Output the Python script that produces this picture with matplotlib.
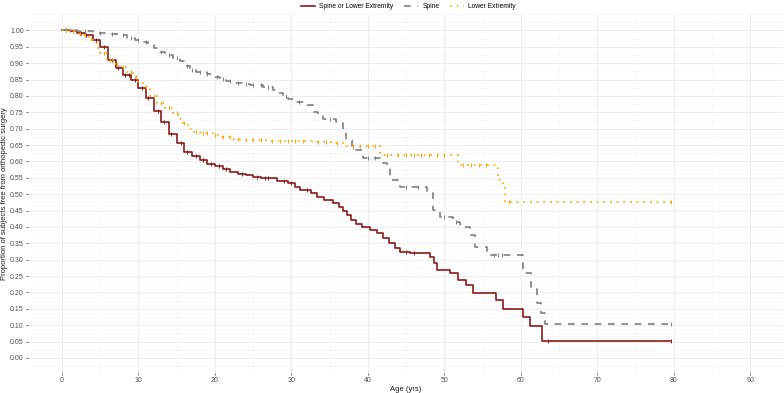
import numpy as np
from matplotlib import pyplot as plt
from matplotlib.ticker import MultipleLocator

plt.rcParams['font.family'] = ['Liberation Sans', 'DejaVu Sans']

# Kaplan-Meier step points (age in years, survival after step)
combo_t = [0, 1, 2, 3, 4, 5, 6, 7, 8, 9, 10, 11, 12, 13, 14, 15, 16, 17, 18, 19,
           20, 21, 22, 23, 24, 25, 26, 27.5, 28.1, 29.5, 30.5, 31.1, 32.5, 33.3,
           34.2, 35.4, 36.2, 36.7, 37.3, 37.8, 38.5, 39.3, 40.3, 41.2, 42, 42.8,
           43.5, 44.2, 45.5, 48.1, 48.6, 49.0, 50.7, 51.8, 52.9, 53.8, 56.8,
           57.7, 60.3, 61.2, 62.8, 79.7]
combo_s = [1.0, 0.998, 0.993, 0.985, 0.972, 0.95, 0.91, 0.885, 0.865, 0.848,
           0.825, 0.795, 0.755, 0.72, 0.685, 0.655, 0.63, 0.615, 0.603, 0.593,
           0.585, 0.578, 0.568, 0.562, 0.558, 0.552, 0.55, 0.548, 0.541, 0.535,
           0.522, 0.512, 0.505, 0.49, 0.482, 0.472, 0.462, 0.45, 0.435, 0.42,
           0.41, 0.40, 0.39, 0.38, 0.365, 0.35, 0.337, 0.322, 0.32, 0.309,
           0.29, 0.268, 0.259, 0.238, 0.223, 0.199, 0.177, 0.149, 0.126,
           0.098, 0.052, 0.052]

spine_t = [0, 2, 4, 6, 7.5, 8.5, 9.5, 10.5, 11.3, 12, 12.8, 13.5, 14.5, 15.4,
           16, 16.7, 17.5, 18.9, 20, 20.6, 21.5, 22.4, 23.5, 24.6, 26.3, 27.6,
           28.3, 28.9, 29.6, 30.2, 32, 32.8, 33.5, 34.1, 35.9, 36.7, 37.2, 37.9,
           38.5, 39.4, 42.0, 42.5, 42.9, 44.2, 47.7, 48.5, 49.4, 51.1, 52, 53.3,
           54, 55.6, 60.3, 61.4, 62.1, 62.7, 63.2, 79.7]
spine_s = [1.0, 0.997, 0.993, 0.99, 0.985, 0.978, 0.972, 0.965, 0.955, 0.945,
           0.935, 0.925, 0.915, 0.905, 0.89, 0.878, 0.872, 0.866, 0.858, 0.852,
           0.846, 0.84, 0.836, 0.832, 0.827, 0.817, 0.808, 0.80, 0.79, 0.781,
           0.771, 0.75, 0.74, 0.73, 0.72, 0.70, 0.665, 0.645, 0.634, 0.61,
           0.595, 0.583, 0.543, 0.522, 0.503, 0.451, 0.431, 0.416, 0.40, 0.375,
           0.339, 0.314, 0.259, 0.21, 0.168, 0.137, 0.105, 0.105]

lower_t = [0, 1, 2, 2.7, 3.5, 4.1, 4.6, 5, 5.9, 6.8, 7.6, 8.5, 9.3, 10, 10.6,
           11.5, 12.4, 13.5, 14.5, 15.2, 15.8, 16.5, 17.1, 18, 19.7, 20.6, 22.4,
           23.3, 26.8, 32.8, 35.4, 37.2, 41.6, 51.8, 57.0, 57.7, 57.9, 79.7]
lower_s = [1.0, 0.997, 0.99, 0.985, 0.975, 0.96, 0.945, 0.93, 0.909, 0.898,
           0.888, 0.872, 0.858, 0.843, 0.827, 0.80, 0.777, 0.762, 0.747, 0.73,
           0.716, 0.70, 0.69, 0.686, 0.68, 0.675, 0.668, 0.665, 0.663, 0.66,
           0.655, 0.646, 0.619, 0.588, 0.543, 0.522, 0.477, 0.477]

# censoring times
combo_cens = [0.5, 1.5, 2.5, 3.2, 4.5, 5.5, 6.5, 7.3, 8.2, 8.8, 9.6, 10.4, 11.2,
              12.5, 13.4, 14.3, 15.5, 16.3, 17.5, 18.5, 19.5, 20.5, 21.5, 23.5,
              25.5, 26.5, 27, 29, 30, 32, 45, 46, 63.5, 79.7]
spine_cens = [1, 3, 5, 6.5, 8, 9, 10, 11, 13, 14, 15, 16.3, 17, 18, 19, 20.3,
              21, 22, 23, 24, 25, 26, 27, 29.3, 31, 35, 38, 40, 41, 45, 46.5,
              50, 51.5, 56.5, 57, 57.5, 79.7]
lower_cens = [0.5, 1.5, 2.3, 3, 3.8, 5.5, 6.3, 7.2, 8, 9, 9.7, 11, 12, 13, 14,
              15, 16, 17.5, 18.5, 19, 20, 21, 22, 23, 24, 25, 26, 27.5, 28.5,
              29.5, 30.5, 31.5, 33.5, 34.5, 36, 38, 39, 40, 41, 42.5, 44, 45,
              46, 47, 48, 49, 50, 52.5, 53.5, 54.5, 55.5, 58.5, 79.7]

labels = ['Spine or Lower Extremity', 'Spine', 'Lower Extremity']
colors = ['#8B1A1A', '#7F7F7F', '#FFA500']
styles = ['-', (0, (4, 4)), (0, (1, 3))]


def surv_at(t, s, when):
    idx = np.searchsorted(t, when, side='right') - 1
    return np.asarray(s)[idx]


fig = plt.figure(figsize=(7.84, 3.93), dpi=100)
ax = fig.add_axes([28 / 784, 20 / 393, 755 / 784, 359 / 393])

series = [(combo_t, combo_s, combo_cens), (spine_t, spine_s, spine_cens),
          (lower_t, lower_s, lower_cens)]
for (t, s, c), lab, col, ls in zip(series, labels, colors, styles):
    ax.step(t, s, where='post', color=col, linestyle=ls, lw=1.2, label=lab)
    ax.plot(c, surv_at(t, s, c), linestyle='none', marker='|', color=col,
            markersize=3, markeredgewidth=0.7)

ax.set_xlim(-4.45, 94.3)
ax.set_ylim(-0.046, 1.05)
ax.xaxis.set_major_locator(MultipleLocator(10))
ax.xaxis.set_minor_locator(MultipleLocator(5))
ax.yaxis.set_minor_locator(MultipleLocator(0.025))
ax.set_yticks(np.arange(0, 1.001, 0.05))
ax.set_yticklabels(['{:.2f}'.format(v) for v in np.arange(0, 1.001, 0.05)])

ax.grid(which='major', color='#EBEBEB', lw=0.6)
ax.grid(which='minor', color='#F4F4F4', lw=0.4)
ax.set_axisbelow(True)
for sp in ax.spines.values():
    sp.set_visible(False)
ax.tick_params(which='major', length=1.5, width=0.5, color='#333333',
               labelsize=5, labelcolor='#4D4D4D', pad=1.5)
ax.tick_params(which='minor', length=0)

ax.set_xlabel('Age (yrs)', fontsize=5.5, color='#1A1A1A', labelpad=1.5)
ax.set_ylabel('Proportion of subjects free from orthopedic surgery',
              fontsize=5.5, color='#1A1A1A', labelpad=1.5)

fig.legend(loc='upper center', bbox_to_anchor=(0.521, 1.008), ncol=3,
           frameon=False, fontsize=4.8, handlelength=2.1, columnspacing=1.6,
           handletextpad=0.6)

fig.savefig('out.png', dpi=100)
